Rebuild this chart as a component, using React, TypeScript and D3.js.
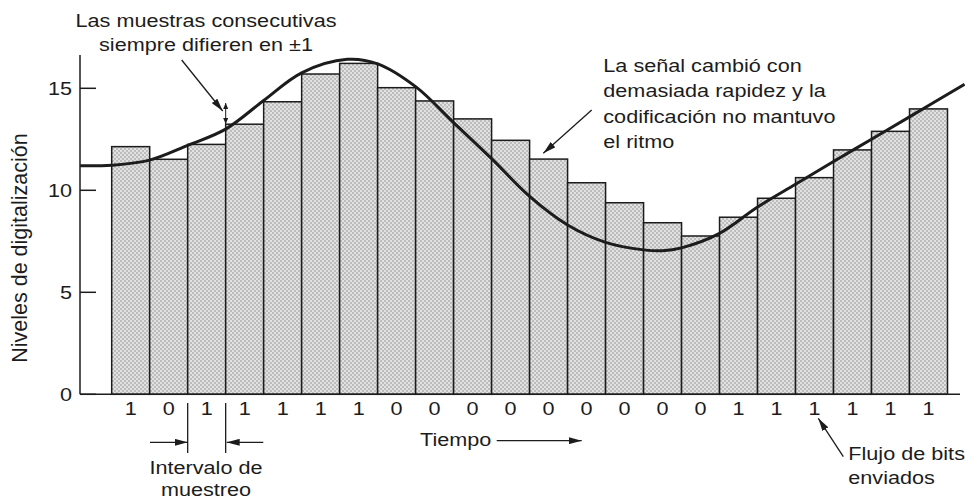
import React, { useEffect, useRef } from "react";
import * as d3 from "d3";

// sampled levels (one bar per sampling interval)
const levels = [12.14, 11.52, 12.25, 13.24, 14.34, 15.7, 16.22, 15.03, 14.38, 13.5, 12.45, 11.53, 10.37, 9.39, 8.41, 7.76, 8.68, 9.61, 10.62, 11.98, 12.89, 13.99];
// bit sent for each sample
const bits = ["1", "0", "1", "1", "1", "1", "1", "0", "0", "0", "0", "0", "0", "0", "0", "0", "1", "1", "1", "1", "1", "1"];
// original analog signal (time in sample units, level)
const signalT = [-0.83, 0, 1, 2, 3, 4, 5, 6.2, 7, 8, 9, 10, 11, 12, 13, 14, 14.5, 15, 16, 17, 18, 19, 20, 21, 22.45];
const signalLevel = [11.2, 11.23, 11.48, 12.2, 13.0, 14.4, 15.76, 16.42, 16.2, 15.08, 13.32, 11.55, 9.7, 8.3, 7.45, 7.08, 7.04, 7.18, 7.89, 9.18, 10.3, 11.41, 12.5, 13.6, 15.2];
const yTicks = [0, 5, 10, 15];

const topNote = ["Las muestras consecutivas", "siempre difieren en \u00b11"];
const rightNote = ["La señal cambió con", "demasiada rapidez y la", "codificación no mantuvo", "el ritmo"];
const intervalNote = ["Intervalo de", "muestreo"];
const bitsNote = ["Flujo de bits", "enviados"];

const W = 965;
const H = 499;
const FONT = "'Liberation Sans', Arial, Helvetica, sans-serif";
const SX = 1.17; // the figure is a little wider than tall
const ink = "#1c1c1c";

export default function App() {
  const svgRef = useRef<SVGSVGElement>(null);

  useEffect(() => {
    const svg = d3.select(svgRef.current);
    svg.selectAll("*").remove();

    const x = d3.scaleLinear().domain([0, levels.length]).range([111.7, 947.5]);
    const y = d3.scaleLinear().domain([0, 15]).range([394.3, 88.3]);

    const defs = svg.append("defs");
    const pat = defs.append("pattern").attr("id", "dots")
      .attr("patternUnits", "userSpaceOnUse").attr("width", 4).attr("height", 4);
    pat.append("rect").attr("width", 4).attr("height", 4).attr("fill", "#e2e2e2");
    pat.append("rect").attr("width", 2).attr("height", 2).attr("fill", "#bcbcbc");
    pat.append("rect").attr("x", 2).attr("y", 2).attr("width", 2).attr("height", 2).attr("fill", "#bcbcbc");

    const marker = (id: string, w: number, h: number) =>
      defs.append("marker").attr("id", id)
        .attr("viewBox", "0 0 10 10").attr("preserveAspectRatio", "none")
        .attr("refX", 10).attr("refY", 5)
        .attr("markerUnits", "userSpaceOnUse")
        .attr("markerWidth", w).attr("markerHeight", h)
        .attr("orient", "auto-start-reverse")
        .append("path").attr("d", "M0,0L10,5L0,10Z").attr("fill", ink);
    marker("head", 13, 7);
    marker("small", 6, 5);

    // bars
    svg.append("g").selectAll("rect").data(levels).join("rect")
      .attr("x", (d, i) => x(i))
      .attr("y", (d) => y(d))
      .attr("width", x(1) - x(0))
      .attr("height", (d) => y(0) - y(d))
      .attr("fill", "url(#dots)")
      .attr("stroke", ink)
      .attr("stroke-width", 1.5);

    // signal
    const line = d3.line<number>()
      .x((d, i) => x(signalT[i]))
      .y((d) => y(d))
      .curve(d3.curveCatmullRom.alpha(0.5));
    svg.append("path").datum(signalLevel)
      .attr("d", line)
      .attr("fill", "none")
      .attr("stroke", ink)
      .attr("stroke-width", 3);

    // axes
    svg.append("line").attr("x1", 80).attr("x2", 80).attr("y1", 55).attr("y2", y(0))
      .attr("stroke", ink).attr("stroke-width", 1.5);
    svg.append("line").attr("x1", 80).attr("x2", 960).attr("y1", y(0)).attr("y2", y(0))
      .attr("stroke", ink).attr("stroke-width", 1.5);
    svg.append("g").selectAll("line").data(yTicks).join("line")
      .attr("x1", 80).attr("x2", 96).attr("y1", (d) => y(d)).attr("y2", (d) => y(d))
      .attr("stroke", ink).attr("stroke-width", 1.5);

    const txt = (s: string, px: number, py: number, anchor = "start", size = 18.5) =>
      svg.append("text")
        .attr("transform", `translate(${px},${py}) scale(${SX},1)`)
        .attr("text-anchor", anchor)
        .attr("font-family", FONT)
        .attr("font-size", size)
        .attr("fill", ink)
        .text(s);

    yTicks.forEach((t) => txt(String(t), 72, y(t) + 6.5, "end"));
    bits.forEach((b, i) => txt(b, x(i + 0.5), 415, "middle"));

    svg.append("text")
      .attr("transform", "translate(27,248) rotate(-90)")
      .attr("text-anchor", "middle")
      .attr("font-family", FONT)
      .attr("font-size", 21.5)
      .attr("fill", ink)
      .text("Niveles de digitalización");

    // top-left note
    topNote.forEach((s, i) => txt(s, 206, 26.5 + i * 24.5, "middle"));
    svg.append("line").attr("x1", 181.7).attr("y1", 60).attr("x2", 222.7).attr("y2", 111)
      .attr("stroke", ink).attr("stroke-width", 1.3).attr("marker-end", "url(#head)");
    svg.append("line").attr("x1", x(3)).attr("x2", x(3)).attr("y1", 103).attr("y2", 124)
      .attr("stroke", ink).attr("stroke-width", 1)
      .attr("marker-start", "url(#small)").attr("marker-end", "url(#small)");

    // right note
    rightNote.forEach((s, i) => txt(s, 603.3, 71.7 + i * 25.5));
    svg.append("line").attr("x1", 591.7).attr("y1", 110).attr("x2", 543.3).attr("y2", 153.3)
      .attr("stroke", ink).attr("stroke-width", 1.3).attr("marker-end", "url(#head)");

    // sampling interval
    [x(2), x(3)].forEach((xx) =>
      svg.append("line").attr("x1", xx).attr("x2", xx).attr("y1", 403).attr("y2", 453)
        .attr("stroke", ink).attr("stroke-width", 1.3));
    svg.append("line").attr("x1", 150).attr("x2", x(2)).attr("y1", 442.3).attr("y2", 442.3)
      .attr("stroke", ink).attr("stroke-width", 1.3).attr("marker-end", "url(#head)");
    svg.append("line").attr("x1", 263.3).attr("x2", x(3) + 1).attr("y1", 442.3).attr("y2", 442.3)
      .attr("stroke", ink).attr("stroke-width", 1.3).attr("marker-end", "url(#head)");
    intervalNote.forEach((s, i) => txt(s, 206, 474 + i * 21.5, "middle"));

    // time
    txt("Tiempo", 420, 446);
    svg.append("line").attr("x1", 496.7).attr("x2", 581.7).attr("y1", 440.7).attr("y2", 440.7)
      .attr("stroke", ink).attr("stroke-width", 1.3).attr("marker-end", "url(#head)");

    // bit stream note
    bitsNote.forEach((s, i) => txt(s, 848.3, 460 + i * 24));
    svg.append("line").attr("x1", 843.3).attr("y1", 456.7).attr("x2", 818.3).attr("y2", 418.3)
      .attr("stroke", ink).attr("stroke-width", 1.3).attr("marker-end", "url(#head)");
  }, []);

  return (
    <svg
      ref={svgRef}
      width={W}
      height={H}
      style={{ position: "absolute", left: 0, top: 0, background: "#fff" }}
    ></svg>
  );
}
